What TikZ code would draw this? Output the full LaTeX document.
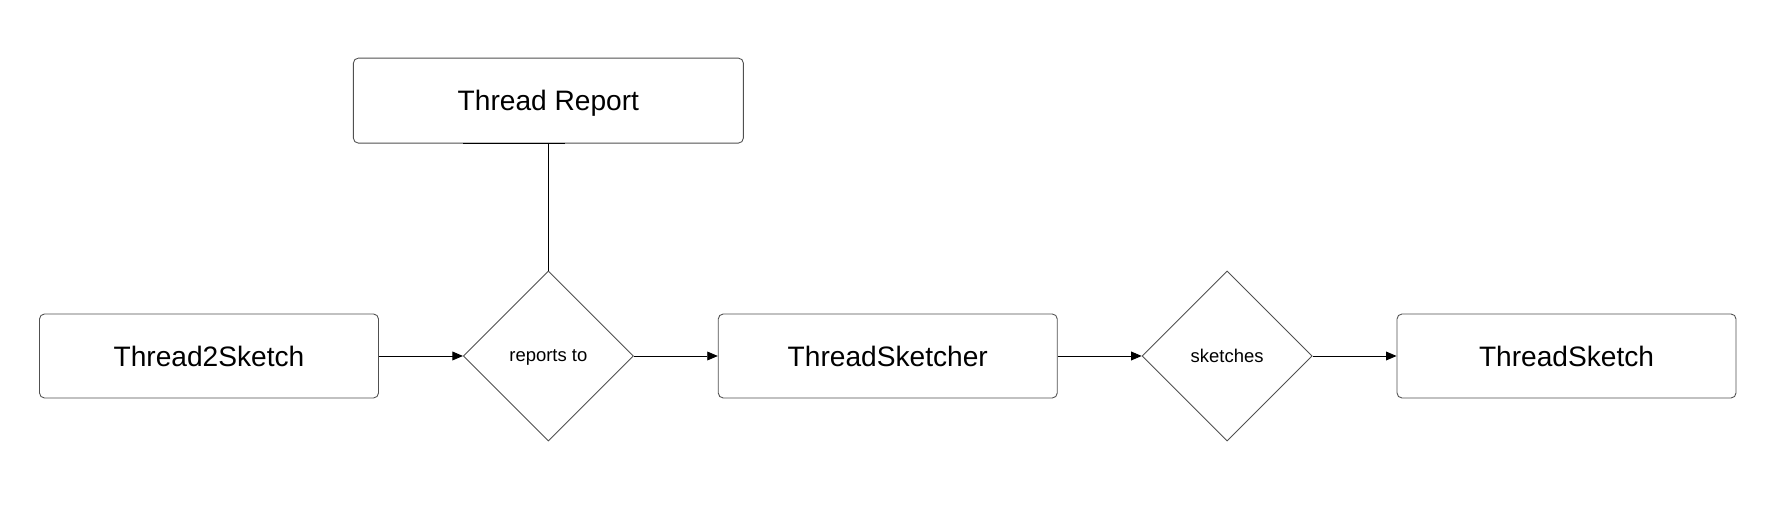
\documentclass[tikz,border=0pt]{standalone}
\usepackage{fontspec}
\setmainfont{Liberation Sans}
\usetikzlibrary{arrows.meta,positioning,shapes.geometric}
\definecolor{edgegray}{RGB}{80,80,80}
\tikzset{
  entity-box/.style={
    rectangle,
    rounded corners=0.1cm,
    draw=edgegray,
    line width=0.5pt,
    minimum width=6.78cm,
    minimum height=1.68cm,
    text depth=0pt,
    font=\fontsize{16}{19}\selectfont
  },
  relation-diamond/.style={
    diamond,
    aspect=1,
    draw=edgegray,
    line width=0.5pt,
    minimum size=3.4cm,
    inner sep=0pt,
    text depth=0pt,
    font=\fontsize{10.5}{12}\selectfont
  },
  link/.style={
    line width=0.5pt,
    -{Triangle[length=6pt,width=5pt]}
  },
  plain-link/.style={line width=0.5pt}
}

\begin{document}
\begin{tikzpicture}
  \useasboundingbox (0,0) rectangle (35.46,10.22);
  % main row
  \node[entity-box] (t2s) at (4.18,3.1) {Thread2Sketch};
  \node[relation-diamond, right=1.68cm of t2s] (reportsto) {reports to};
  \node[entity-box, right=1.68cm of reportsto] (sketcher) {ThreadSketcher};
  \node[relation-diamond, right=1.68cm of sketcher] (sketches) {sketches};
  \node[entity-box, right=1.68cm of sketches] (sketch) {ThreadSketch};
  % report on top
  \node[entity-box, minimum width=7.8cm, minimum height=1.7cm,
        above=2.54cm of reportsto] (report) {Thread Report};
  \draw[line width=0.6pt] ([xshift=-1.7cm]report.south) -- ([xshift=0.34cm]report.south);
  % connectors
  \draw[link] (t2s) -- (reportsto);
  \draw[link] (reportsto) -- (sketcher);
  \draw[link] (sketcher) -- (sketches);
  \draw[link] (sketches) -- (sketch);
  \draw[plain-link] (report) -- (reportsto);
\end{tikzpicture}
\end{document}
